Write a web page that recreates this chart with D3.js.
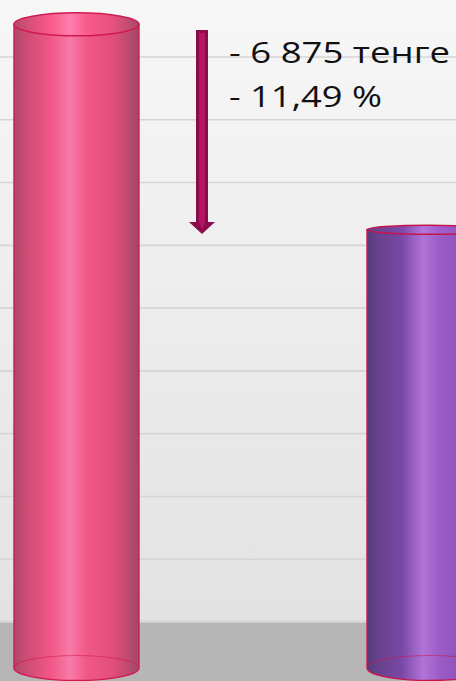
<!DOCTYPE html>
<html><head><meta charset="utf-8">
<script src="https://cdn.jsdelivr.net/npm/d3@7"></script>
<style>html,body{margin:0;padding:0;background:#fff;overflow:hidden}</style>
</head><body>
<svg id="chart" width="456" height="681"></svg>
<script>
// ---- data ----
const categories = ["Было", "Стало"];
const values = [59836, 52961];
const gridTicks = [40000, 42000, 44000, 46000, 48000, 50000, 52000, 54000, 56000, 58000];
const annotationLines = ["- 6 875 тенге", "- 11,49 %"];
const seriesColors = [
  ["#a84a68", "#c44a72", "#f05585", "#f87aa8", "#f05888", "#e04e7a", "#a04866"],
  ["#563a76", "#64408a", "#7a48a6", "#b074d8", "#9c5cc8", "#8a50b6", "#6a3e8c"]
];
const outlineColors = ["#d01a50", "#c8164c"];

const W = 456, H = 681;
const svg = d3.select("#chart");
const defs = svg.append("defs");

// scales
const x = d3.scaleBand().domain(categories).range([14, 492]).paddingInner(0.646).paddingOuter(0);
const yWall = d3.scaleLinear().domain([40000, 58000]).range([622, 57]);
const yCyl = d3.scaleLinear().domain([38300, 60000]).range([668, 19.4]);
const eyeY = 332;
const ryAt = y => Math.max(4.5, 0.0372 * Math.abs(y - eyeY));

// wall
const wg = defs.append("linearGradient").attr("id", "wall").attr("x1", 0).attr("x2", 0).attr("y1", 0).attr("y2", 1);
wg.append("stop").attr("offset", 0).attr("stop-color", "#f7f7f7");
wg.append("stop").attr("offset", 1).attr("stop-color", "#e2e2e2");
svg.append("rect").attr("width", W).attr("height", 622).attr("fill", "url(#wall)");
svg.append("rect").attr("y", 622).attr("width", W).attr("height", H - 622).attr("fill", "#b6b6b6");

// gridlines
svg.append("g").selectAll("line").data(gridTicks).join("line")
  .attr("x1", 0).attr("x2", W)
  .attr("y1", d => yWall(d)).attr("y2", d => yWall(d))
  .attr("stroke", "#d5d5d5").attr("stroke-width", 1.6);
svg.append("line").attr("x1", 0).attr("x2", W).attr("y1", 621).attr("y2", 621)
  .attr("stroke", "#dadada").attr("stroke-width", 2);

// cylinder gradients
const offs = [0, 0.06, 0.28, 0.45, 0.58, 0.8, 1];
seriesColors.forEach((cols, i) => {
  const g = defs.append("linearGradient").attr("id", "cyl" + i).attr("x1", 0).attr("x2", 1).attr("y1", 0).attr("y2", 0);
  cols.forEach((c, k) => g.append("stop").attr("offset", offs[k]).attr("stop-color", c));
  const t = defs.append("linearGradient").attr("id", "top" + i).attr("x1", 0).attr("x2", 1).attr("y1", 0).attr("y2", 0);
  cols.forEach((c, k) => t.append("stop").attr("offset", offs[k]).attr("stop-color", d3.color(c).brighter(0.08)));
});

const base = yCyl.domain()[0];
const cyl = svg.append("g").selectAll("g").data(categories).join("g");
cyl.each(function (c, i) {
  const g = d3.select(this);
  const x0 = x(c), bw = x.bandwidth(), x1 = x0 + bw, rx = bw / 2, cx = x0 + rx;
  const yT = yCyl(values[i]), yB = yCyl(base);
  const ryT = ryAt(yT), ryB = ryAt(yB);
  g.append("path")
    .attr("d", `M${x0},${yT} L${x0},${yB} A${rx},${ryB} 0 0 0 ${x1},${yB} L${x1},${yT} Z`)
    .attr("fill", `url(#cyl${i})`)
    .attr("stroke", outlineColors[i]).attr("stroke-width", 1.4);
  g.append("path")
    .attr("d", `M${x0},${yB} A${rx},${ryB} 0 0 1 ${x1},${yB}`)
    .attr("fill", "none").attr("stroke", outlineColors[i]).attr("stroke-opacity", 0.55).attr("stroke-width", 1.2);
  g.append("ellipse").attr("cx", cx).attr("cy", yT).attr("rx", rx).attr("ry", ryT)
    .attr("fill", `url(#top${i})`).attr("stroke", outlineColors[i]).attr("stroke-width", 1.5);
});

// arrow
const arrowX = 202, arrowTop = 30, arrowHeadY = 222, arrowTip = 234;
const ag = svg.append("g");
ag.append("rect").attr("x", arrowX - 6).attr("y", arrowTop).attr("width", 12).attr("height", arrowHeadY - arrowTop).attr("fill", "#8a0c4c");
ag.append("rect").attr("x", arrowX - 3).attr("y", arrowTop + 3).attr("width", 6).attr("height", arrowHeadY - arrowTop).attr("fill", "#b3155f");
ag.append("path").attr("d", `M${arrowX - 13},${arrowHeadY} L${arrowX + 13},${arrowHeadY} L${arrowX},${arrowTip} Z`).attr("fill", "#8a0c4c");
ag.append("path").attr("d", `M${arrowX - 3},${arrowHeadY} L${arrowX + 3},${arrowHeadY} L${arrowX},${arrowTip - 4} Z`).attr("fill", "#b3155f");

// annotation text
const lens = [221, 153];
svg.append("g").selectAll("text").data(annotationLines).join("text")
  .attr("x", 229).attr("y", (d, i) => 63 + i * 44)
  .attr("font-family", "'Open Sans', Lato, sans-serif").attr("font-size", 28.5).attr("font-weight", 400)
  .attr("fill", "#111")
  .attr("textLength", (d, i) => lens[i]).attr("lengthAdjust", "spacingAndGlyphs")
  .text(d => d);
</script>
</body></html>
